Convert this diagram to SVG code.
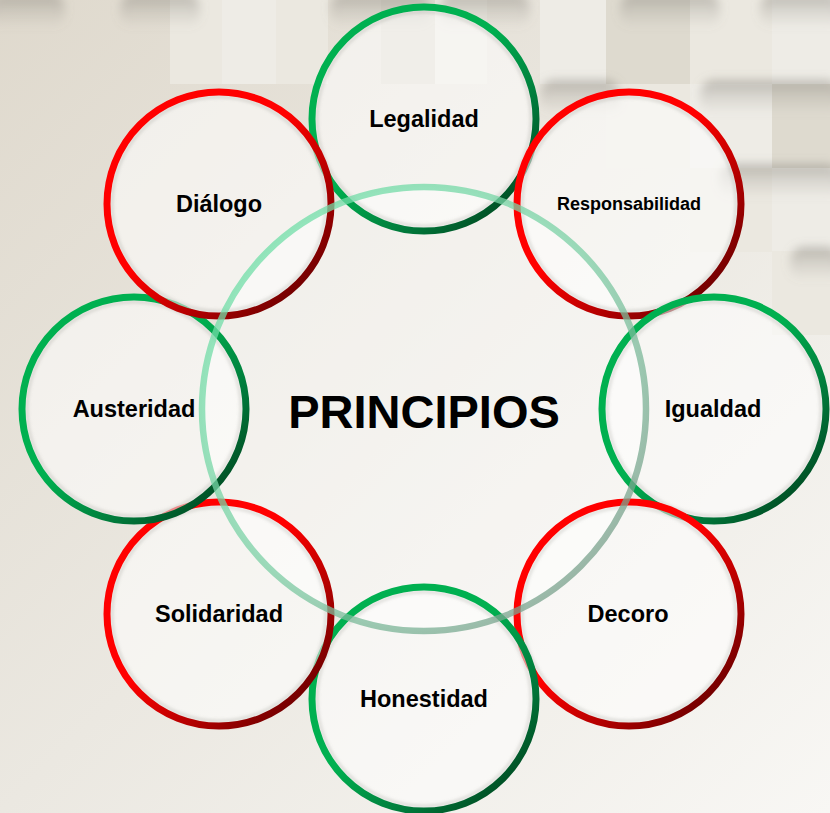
<svg xmlns="http://www.w3.org/2000/svg" width="830" height="813" viewBox="0 0 830 813">
  <defs>
    <linearGradient id="bg" x1="0" y1="0" x2="1" y2="1">
      <stop offset="0" stop-color="#dfd9cd"/>
      <stop offset="0.5" stop-color="#ebe8e1"/>
      <stop offset="1" stop-color="#f8f7f4"/>
    </linearGradient>
    <linearGradient id="red" x1="0.15" y1="0.15" x2="0.9" y2="0.9">
      <stop offset="0.4" stop-color="#ff0000"/>
      <stop offset="0.75" stop-color="#a80000"/>
      <stop offset="1" stop-color="#6a0000"/>
    </linearGradient>
    <linearGradient id="green" x1="0.15" y1="0.15" x2="0.9" y2="0.9">
      <stop offset="0.4" stop-color="#00b050"/>
      <stop offset="0.75" stop-color="#00783a"/>
      <stop offset="1" stop-color="#004a22"/>
    </linearGradient>
    <linearGradient id="mint" x1="0.1" y1="0.1" x2="0.9" y2="0.9">
      <stop offset="0" stop-color="#6fe0a8"/>
      <stop offset="0.5" stop-color="#7ccfa5"/>
      <stop offset="1" stop-color="#7a9c8a"/>
    </linearGradient>
    <linearGradient id="shadeDown" x1="0" y1="0" x2="0" y2="1">
      <stop offset="0" stop-color="#8a867e" stop-opacity="0.55"/>
      <stop offset="0.4" stop-color="#8a867e" stop-opacity="0.25"/>
      <stop offset="1" stop-color="#8a867e" stop-opacity="0"/>
    </linearGradient>
    <filter id="blur" x="-20%" y="-50%" width="140%" height="200%">
      <feGaussianBlur stdDeviation="5"/>
    </filter>
    <filter id="soft" x="-10%" y="-10%" width="120%" height="120%">
      <feGaussianBlur stdDeviation="1.5"/>
    </filter>
  </defs>
  <style>
    .fill { fill: #ffffff; fill-opacity: 0.55; }
    .inner { fill: none; stroke: #8c8a84; stroke-opacity: 0.25; stroke-width: 3; }
    .ring { fill: none; stroke-width: 7; }
    .r { stroke: url(#red); }
    .g { stroke: url(#green); }
    .lbl { font-family: "Liberation Sans", Arial, sans-serif; font-weight: bold; font-size: 23.5px; fill: #000; text-anchor: middle; }
    .tile-a { fill: #ebe8e0; }
    .tile-b { fill: #dedacf; }
    .tile-c { fill: #eeece6; }
  </style>

  <!-- background -->
  <rect x="0" y="0" width="830" height="813" fill="url(#bg)"/>
  <g id="tiles">
    <rect class="tile-a" x="170" y="0" width="52" height="84"/>
    <rect class="tile-c" x="222" y="0" width="54" height="84"/>
    <rect class="tile-a" x="276" y="0" width="52" height="84"/>
    <rect class="tile-b" x="381" y="0" width="54" height="84"/>
    <rect class="tile-a" x="435" y="0" width="52" height="84"/>
    <rect class="tile-c" x="540" y="0" width="66" height="84"/>
    <rect class="tile-b" x="606" y="0" width="84" height="84"/>
    <rect class="tile-a" x="690" y="0" width="82" height="84"/>
    <rect class="tile-c" x="772" y="0" width="58" height="84"/>
    <rect class="tile-a" x="606" y="84" width="84" height="84"/>
    <rect class="tile-c" x="690" y="84" width="82" height="84"/>
    <rect class="tile-b" x="772" y="84" width="58" height="84"/>
    <rect class="tile-a" x="690" y="168" width="82" height="84"/>
    <rect class="tile-c" x="772" y="168" width="58" height="84"/>
    <rect class="tile-a" x="772" y="251" width="58" height="84"/>
  </g>
  <g id="tile-shadows" filter="url(#blur)">
    <rect x="-10" y="-6" width="75" height="34" rx="14" fill="url(#shadeDown)"/>
    <rect x="120" y="-6" width="80" height="34" rx="14" fill="url(#shadeDown)"/>
    <rect x="330" y="-6" width="100" height="34" rx="14" fill="url(#shadeDown)"/>
    <rect x="440" y="-6" width="90" height="34" rx="14" fill="url(#shadeDown)"/>
    <rect x="620" y="-6" width="100" height="34" rx="14" fill="url(#shadeDown)"/>
    <rect x="760" y="-6" width="80" height="34" rx="14" fill="url(#shadeDown)"/>
    <rect x="540" y="80" width="80" height="34" rx="14" fill="url(#shadeDown)"/>
    <rect x="700" y="80" width="140" height="34" rx="14" fill="url(#shadeDown)"/>
    <rect x="720" y="164" width="120" height="34" rx="14" fill="url(#shadeDown)"/>
    <rect x="790" y="247" width="50" height="34" rx="14" fill="url(#shadeDown)"/>
  </g>

  <!-- central circle fill -->
  <circle cx="424" cy="409" r="222" fill="#ffffff" fill-opacity="0.45"/>

  <g id="legalidad">
    <circle class="fill" cx="424" cy="119" r="112"/>
    <circle class="inner" cx="424" cy="119" r="107" filter="url(#soft)"/>
    <circle class="ring g" cx="424" cy="119" r="112"/>
  </g>
  <g id="responsabilidad">
    <circle class="fill" cx="629" cy="204" r="112"/>
    <circle class="inner" cx="629" cy="204" r="107" filter="url(#soft)"/>
    <circle class="ring r" cx="629" cy="204" r="112"/>
  </g>
  <g id="igualdad">
    <circle class="fill" cx="714" cy="409" r="112"/>
    <circle class="inner" cx="714" cy="409" r="107" filter="url(#soft)"/>
    <circle class="ring g" cx="714" cy="409" r="112"/>
  </g>
  <g id="decoro">
    <circle class="fill" cx="629" cy="614" r="112"/>
    <circle class="inner" cx="629" cy="614" r="107" filter="url(#soft)"/>
    <circle class="ring r" cx="629" cy="614" r="112"/>
  </g>
  <g id="honestidad">
    <circle class="fill" cx="424" cy="699" r="112"/>
    <circle class="inner" cx="424" cy="699" r="107" filter="url(#soft)"/>
    <circle class="ring g" cx="424" cy="699" r="112"/>
  </g>
  <g id="solidaridad">
    <circle class="fill" cx="219" cy="614" r="112"/>
    <circle class="inner" cx="219" cy="614" r="107" filter="url(#soft)"/>
    <circle class="ring r" cx="219" cy="614" r="112"/>
  </g>
  <g id="austeridad">
    <circle class="fill" cx="134" cy="409" r="112"/>
    <circle class="inner" cx="134" cy="409" r="107" filter="url(#soft)"/>
    <circle class="ring g" cx="134" cy="409" r="112"/>
  </g>
  <g id="dialogo">
    <circle class="fill" cx="219" cy="204" r="112"/>
    <circle class="inner" cx="219" cy="204" r="107" filter="url(#soft)"/>
    <circle class="ring r" cx="219" cy="204" r="112"/>
  </g>

  <g id="principios">
    <circle cx="424" cy="409" r="222" fill="none" stroke="url(#mint)" stroke-width="6.5" stroke-opacity="0.75"/>
  </g>

  <g id="labels">
    <text class="lbl" x="424" y="127">Legalidad</text>
    <text class="lbl" x="629" y="210" style="font-size:18px">Responsabilidad</text>
    <text class="lbl" x="713" y="417">Igualdad</text>
    <text class="lbl" x="628" y="622">Decoro</text>
    <text class="lbl" x="424" y="707">Honestidad</text>
    <text class="lbl" x="219" y="622">Solidaridad</text>
    <text class="lbl" x="134" y="417">Austeridad</text>
    <text class="lbl" x="219" y="212">Diálogo</text>
    <text class="lbl" x="424" y="428" style="font-size:47px">PRINCIPIOS</text>
  </g>
</svg>
